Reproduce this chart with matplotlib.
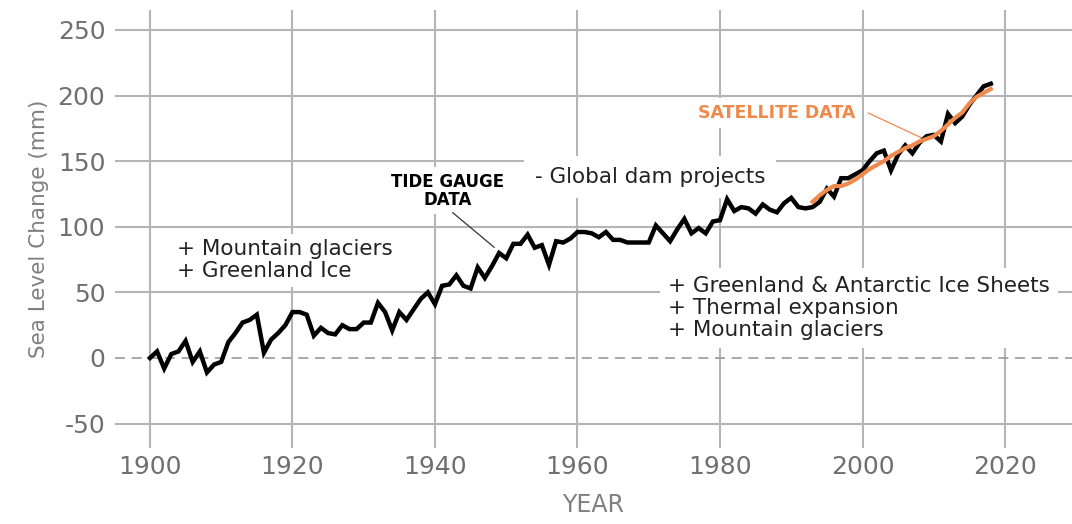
import matplotlib.pyplot as plt
import numpy as np

plt.rcParams['axes.unicode_minus'] = False

years = np.arange(1900, 2019)
tide_gauge = [0, 5, -8, 3, 5, 13, -3, 5, -11, -5,
              -3, 12, 19, 27, 29, 33, 4, 14, 19, 25,
              35, 35, 33, 17, 23, 19, 18, 25, 22, 22,
              27, 27, 42, 35, 21, 35, 29, 37, 45, 50,
              41, 55, 56, 63, 55, 53, 69, 61, 70, 80,
              76, 87, 87, 94, 84, 86, 71, 89, 88, 91,
              96, 96, 95, 92, 96, 90, 90, 88, 88, 88,
              88, 101, 95, 89, 98, 106, 95, 99, 95, 104,
              105, 121, 112, 115, 114, 110, 117, 113, 111, 118,
              122, 115, 114, 115, 119, 129, 123, 137, 137, 140,
              143, 150, 156, 158, 143, 155, 162, 156, 164, 169,
              170, 165, 186, 179, 184, 193, 200, 207, 209]

sat_years = np.arange(1993, 2019)
satellite = [119, 124, 128, 131, 131, 133, 136, 140, 144, 147,
             150, 154, 157, 160, 162, 165, 167, 169, 173, 178,
             183, 187, 194, 199, 202, 205]

x_ticks = [1900, 1920, 1940, 1960, 1980, 2000, 2020]
y_ticks = [-50, 0, 50, 100, 150, 200, 250]

orange = '#ef8a4c'
grid_col = '#b5b5b5'
tick_col = '#707070'

fig = plt.figure(figsize=(10.72, 5.24), dpi=100)
ax = fig.add_axes([0.1073, 0.145, 0.8927, 0.836])

ax.set_xlim(1895.1, 2029.4)
ax.set_ylim(-68.6, 265.2)

# grid drawn by hand so text boxes can sit between vertical and horizontal lines
for x in x_ticks:
    ax.axvline(x, color=grid_col, lw=1.5, zorder=1)
for y in y_ticks:
    if y == 0:
        ax.axhline(y, color='#9a9a9a', lw=1.2, ls=(0, (6, 4)), zorder=6)
    else:
        ax.axhline(y, color=grid_col, lw=1.5, zorder=3)

ax.plot(years, tide_gauge, color='black', lw=3.2, zorder=7, solid_joinstyle='miter')
ax.plot(sat_years, satellite, color=orange, lw=3, zorder=8)

box = dict(facecolor='white', edgecolor='none', pad=4)

# multiline texts: y is the baseline of the last line
ax.text(1903.8, 61.7, '+ Mountain glaciers\n+ Greenland Ice', fontsize=15.5,
        color='#222222', va='baseline', ha='left', linespacing=1.1,
        bbox=box, zorder=2)
ax.text(1954.0, 133.4, '- Global dam projects', fontsize=15.5, color='#222222',
        va='baseline', ha='left', bbox=dict(facecolor='white', edgecolor='none', pad=8),
        zorder=4)
ax.text(1972.7, 16.8, '+ Greenland & Antarctic Ice Sheets\n+ Thermal expansion\n+ Mountain glaciers',
        fontsize=15.5, color='#222222', va='baseline', ha='left', linespacing=1.12,
        bbox=dict(facecolor='white', edgecolor='none', pad=6), zorder=4)

ax.text(1941.8, 116.6, 'TIDE GAUGE\nDATA', fontsize=12, fontweight='bold',
        color='black', ha='center', va='baseline', multialignment='center',
        linespacing=1.0, bbox=box, zorder=4)
ax.plot([1942.5, 1948.3], [110.7, 84.4], color='#333333', lw=0.9, zorder=5)

ax.text(1976.9, 182.9, 'SATELLITE DATA', fontsize=12.5, fontweight='bold',
        color=orange, ha='left', va='baseline', bbox=box, zorder=4)
ax.plot([2000.8, 2008.3], [186.7, 167.7], color=orange, lw=0.9, zorder=5)

ax.set_xticks(x_ticks)
ax.set_yticks(y_ticks)
ax.tick_params(axis='both', length=0, labelsize=18, labelcolor=tick_col)
ax.tick_params(axis='x', pad=5)
ax.tick_params(axis='y', pad=7)
for s in ax.spines.values():
    s.set_visible(False)

ax.set_xlabel('YEAR', fontsize=17, color='#808080', labelpad=10)
ax.set_ylabel('Sea Level Change (mm)', fontsize=15.5, color='#808080', labelpad=6)

fig.savefig('out.png', dpi=100)
